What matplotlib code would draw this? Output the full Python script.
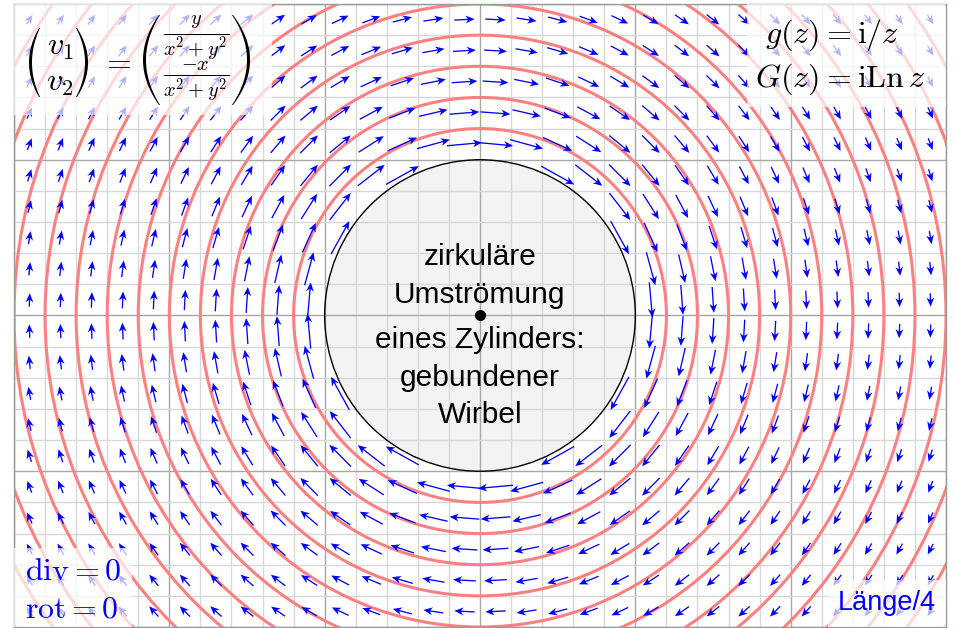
import numpy as np
import matplotlib
matplotlib.use("Agg")
import matplotlib.pyplot as plt
from matplotlib.patches import Circle, Rectangle, Polygon
from matplotlib.transforms import IdentityTransform

plt.rcParams['mathtext.fontset'] = 'cm'

# arrow anchor points (centres of the 0.2-cells)
xs = [-2.9, -2.7, -2.5, -2.3, -2.1, -1.9, -1.7, -1.5, -1.3, -1.1,
      -0.9, -0.7, -0.5, -0.3, -0.1, 0.1, 0.3, 0.5, 0.7, 0.9,
      1.1, 1.3, 1.5, 1.7, 1.9, 2.1, 2.3, 2.5, 2.7, 2.9]
ys = [-1.9, -1.7, -1.5, -1.3, -1.1, -0.9, -0.7, -0.5, -0.3, -0.1,
      0.1, 0.3, 0.5, 0.7, 0.9, 1.1, 1.3, 1.5, 1.7, 1.9]
# streamlines (red circles)
radii = [1.2, 1.4, 1.6, 1.8, 2.0, 2.2, 2.4, 2.6, 2.8, 3.0, 3.2, 3.4, 3.6]
cyl_radius = 1.0
len_factor = 4  # "Länge/4"

center_lines = ["zirkuläre", "Umströmung", "eines Zylinders:", "gebundener", "Wirbel"]
center_y = [0.324, 0.082, -0.211, -0.453, -0.692]

W, H = 957, 628
fig = plt.figure(figsize=(W / 100, H / 100), dpi=100)
ax = fig.add_axes([14/W, 1 - 627/H, 932/W, 623/H])
ax.set_xlim(-3, 3)
ax.set_ylim(-2, 2)

# grid
ax.set_xticks(np.arange(-3, 4, 1))
ax.set_yticks(np.arange(-2, 3, 1))
ax.set_xticks(np.arange(-3, 3.01, 0.2), minor=True)
ax.set_yticks(np.arange(-2, 2.01, 0.2), minor=True)
ax.tick_params(which='both', length=0, labelbottom=False, labelleft=False)
ax.grid(which='major', color='#a8a8a8', lw=1.0)
ax.grid(which='minor', color='#d8d8d8', lw=1.0)
ax.set_axisbelow(True)
for s in ax.spines.values():
    s.set_color('#9a9a9a')
    s.set_linewidth(1.0)

# cylinder
ax.add_patch(Circle((0, 0), cyl_radius, facecolor='#f3f3f3', edgecolor='none', zorder=0.3))
ax.add_patch(Circle((0, 0), cyl_radius, fill=False, edgecolor='black', lw=1.0, zorder=3))

# red streamlines
for r in radii:
    ax.add_patch(Circle((0, 0), r, fill=False, edgecolor='#ff8080', lw=2.2, zorder=2))

# vector field v = (y, -x)/(x^2+y^2)
X, Y = np.meshgrid(xs, ys)
R2 = X**2 + Y**2
U = Y / R2
V = -X / R2
mask = R2 > cyl_radius**2
ax.quiver(X[mask], Y[mask], U[mask], V[mask], color='#0000ff',
          angles='xy', scale_units='xy', scale=len_factor, pivot='mid',
          units='dots', width=1.3, headwidth=6, headlength=7, headaxislength=5.2,
          zorder=4)

ax.plot(0, 0, 'o', color='black', ms=7, zorder=6)

# centre text
for t, yy in zip(center_lines, center_y):
    ax.text(0, yy, t, ha='center', va='baseline', fontsize=21.5,
            family='Liberation Sans', zorder=7)

# semi-transparent label boxes
boxes = [(-3, 1.29, 1.66, 0.71), (1.72, 1.34, 1.28, 0.66),
         (-3, -2, 0.76, 0.51), (2.24, -2, 0.76, 0.30)]
for bx, by, bw, bh in boxes:
    ax.add_patch(Rectangle((bx, by), bw, bh, facecolor='white', edgecolor='none',
                           alpha=0.7, zorder=8))


# --- labels placed in pixel coordinates (measured from the top-left corner)
def P(px, py):
    return px, H - py


def ftext(px, py, s, **kw):
    x, y = P(px, py)
    fig.text(x, y, s, transform=IdentityTransform(), **kw)


def paren(tip_x, mid_x, top, bottom, thick=3.0, tip=1.0):
    # tall thin parenthesis like the LaTeX extensible delimiter
    t = np.linspace(-1, 1, 80)
    yy = (top + bottom) / 2 + t * (bottom - top) / 2
    sgn = np.sign(tip_x - mid_x)
    bulge = abs(tip_x - mid_x)
    outer = tip_x - sgn * bulge * (1 - t**2)
    inner = tip_x + sgn * tip - sgn * (bulge - thick + tip) * (1 - t**2)
    pts = [P(a, b) for a, b in zip(outer, yy)] + [P(a, b) for a, b in zip(inner[::-1], yy[::-1])]
    fig.add_artist(Polygon(pts, closed=True, facecolor='black', edgecolor='none',
                           transform=IdentityTransform()))


paren(39, 29, 28, 97)
paren(77, 88, 28, 97)
paren(159, 143, 15, 105)
paren(233, 250, 15, 105)
ftext(60, 55, r'$v_1$', ha='center', va='baseline', fontsize=23)
ftext(60, 91, r'$v_2$', ha='center', va='baseline', fontsize=23)
ftext(116, 62, r'$=$', ha='center', va='center', fontsize=23)
ftext(196, 37.5, r'$\frac{y}{x^2+y^2}$', ha='center', va='center', fontsize=21)
ftext(196, 81, r'$\frac{-x}{x^2+y^2}$', ha='center', va='center', fontsize=21)

ftext(819, 43, r'$g(z)$', ha='right', va='baseline', fontsize=23)
ftext(821, 43, r'$=\mathrm{i}/z$', ha='left', va='baseline', fontsize=23)
ftext(819, 87, r'$G(z)$', ha='right', va='baseline', fontsize=23)
ftext(821, 87, r'$=\mathrm{i}\mathrm{Ln}\,z$', ha='left', va='baseline', fontsize=23)

ftext(25, 580, r'$\mathrm{div}=0$', color='#0000ff', ha='left', va='baseline', fontsize=23)
ftext(25, 617, r'$\mathrm{rot}=0$', color='#0000ff', ha='left', va='baseline', fontsize=23)
ftext(936, 610, 'Länge/4', color='#0000ff', ha='right', va='baseline',
      fontsize=19.5, family='Liberation Sans')

fig.savefig('out.png', dpi=100)
